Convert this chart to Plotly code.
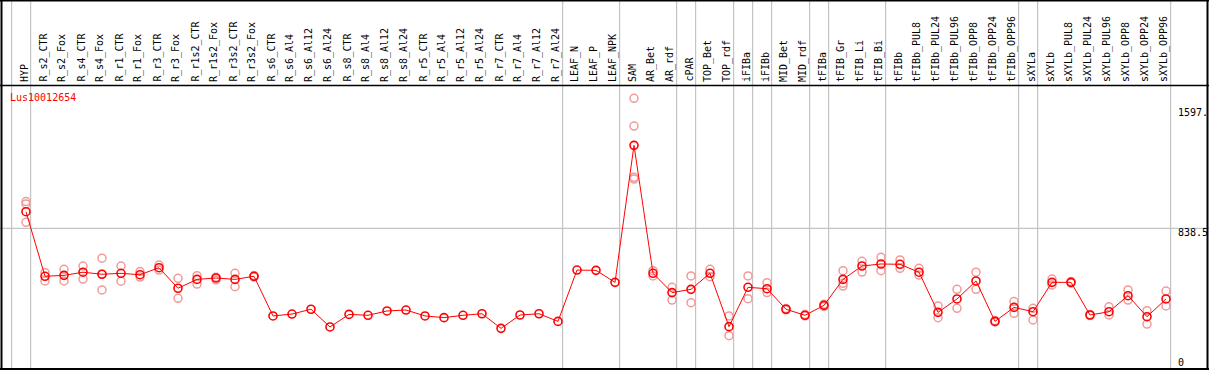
import plotly.graph_objects as go

categories = ["HYP", "R_s2_CTR", "R_s2_Fox", "R_s4_CTR", "R_s4_Fox", "R_r1_CTR", "R_r1_Fox",
              "R_r3_CTR", "R_r3_Fox", "R_r1s2_CTR", "R_r1s2_Fox", "R_r3s2_CTR", "R_r3s2_Fox",
              "R_s6_CTR", "R_s6_Al4", "R_s6_Al12", "R_s6_Al24", "R_s8_CTR", "R_s8_Al4", "R_s8_Al12",
              "R_s8_Al24", "R_r5_CTR", "R_r5_Al4", "R_r5_Al12", "R_r5_Al24", "R_r7_CTR", "R_r7_Al4",
              "R_r7_Al12", "R_r7_Al24", "LEAF_N", "LEAF_P", "LEAF_NPK", "SAM", "AR_Bet", "AR_rdf",
              "cPAR", "TOP_Bet", "TOP_rdf", "iFIBa", "iFIBb", "MID_Bet", "MID_rdf", "tFIBa",
              "tFIB_Gr", "tFIB_Li", "tFIB_Bi", "tFIBb", "tFIBb_PUL8", "tFIBb_PUL24", "tFIBb_PUL96",
              "tFIBb_OPP8", "tFIBb_OPP24", "tFIBb_OPP96", "sXYLa", "sXYLb", "sXYLb_PUL8",
              "sXYLb_PUL24", "sXYLb_PUL96", "sXYLb_OPP8", "sXYLb_OPP24", "sXYLb_OPP96"]

means = [945, 530, 536, 556, 543, 549, 540, 585, 453, 510, 519, 510, 530,
         275, 287, 318, 204, 285, 279, 307, 313, 275, 264, 279, 289, 195, 281, 289, 240,
         570, 568, 491, 1372, 549, 425, 446, 549, 206, 459, 450, 318, 279, 343,
         510, 596, 609, 607, 556, 298, 384, 500, 240, 330, 302, 491, 491, 281, 302, 405, 270, 384]

replicates = [[1010, 995, 877], [553, 500], [575, 500], [596, 512], [646, 442, 543], [596, 498],
              [560, 525], [602, 570], [517, 388], [534, 480], [523, 506], [549, 463], [535, 525],
              [], [], [], [], [], [], [], [], [], [], [], [], [], [], [], [],
              [], [], [], [1674, 1496, 1155, 1166], [566, 532], [459, 377], [532, 360], [575, 527],
              [275, 148], [532, 386], [489, 425], [322, 314], [284, 275], [350, 336],
              [566, 485, 467], [626, 557], [652, 566], [635, 581], [581, 538], [339, 264],
              [446, 324], [556, 446], [245, 236], [367, 292], [324, 249], [512, 474], [496, 486],
              [285, 277], [334, 281], [442, 377], [309, 223], [435, 339]]

group_ends = [0, 1, 29, 32, 35, 36, 38, 39, 40, 42, 43, 46, 53, 54, 61]
axis_labels = ["1597.", "838.5", "0"]
gene = "Lus10012654"

# geometry (pixel layout of the 1209x370 canvas)
W, H = 1209, 370
x0_px, step_px = 26, 19
y0_px, px_per_unit = 358.7, 0.15552

xr = [-x0_px / step_px, (W - x0_px) / step_px]
yr = [(y0_px - H) / px_per_unit, y0_px / px_per_unit]

def ypaper(px):
    return 1 - px / H

def xpaper(px):
    return px / W

idx = list(range(len(categories)))

rep_x, rep_y = [], []
for i, reps in enumerate(replicates):
    for v in reps:
        rep_x.append(i)
        rep_y.append(v)

fig = go.Figure()
fig.add_trace(go.Scatter(x=rep_x, y=rep_y, mode="markers",
                         marker=dict(symbol="circle-open", size=8, color="#f29a9a",
                                     line=dict(width=1.5, color="#f29a9a")),
                         hoverinfo="skip", showlegend=False))
fig.add_trace(go.Scatter(x=idx, y=means, mode="lines+markers",
                         line=dict(color="#ff0000", width=1),
                         marker=dict(symbol="circle-open", size=8, color="#ff0000",
                                     line=dict(width=1.6, color="#ff0000")),
                         text=categories, showlegend=False))

shapes = []
gray = "#c4c4c4"
for g in group_ends:
    xb = g - 1 + 4.6 / step_px
    shapes.append(dict(type="line", xref="x", yref="paper", x0=xb, x1=xb, y0=0, y1=1,
                       line=dict(color=gray, width=1.2), layer="below"))
shapes.append(dict(type="line", xref="paper", yref="y", x0=0, x1=1, y0=838.5, y1=838.5,
                   line=dict(color=gray, width=1.2), layer="below"))
# frame lines
blk = "#000000"
shapes.append(dict(type="line", xref="paper", yref="paper", x0=0, x1=1, y0=ypaper(0.5), y1=ypaper(0.5), line=dict(color=blk, width=2)))
shapes.append(dict(type="line", xref="paper", yref="paper", x0=0, x1=1, y0=ypaper(85.5), y1=ypaper(85.5), line=dict(color=blk, width=1.5)))
shapes.append(dict(type="line", xref="paper", yref="paper", x0=0, x1=1, y0=ypaper(369), y1=ypaper(369), line=dict(color=blk, width=2)))
shapes.append(dict(type="line", xref="paper", yref="paper", x0=xpaper(1.5), x1=xpaper(1.5), y0=0, y1=1, line=dict(color=blk, width=2)))
shapes.append(dict(type="line", xref="paper", yref="paper", x0=xpaper(1207.5), x1=xpaper(1207.5), y0=0, y1=1, line=dict(color=blk, width=2)))

font_mono = "DejaVu Sans Mono"
annotations = []
for i, c in enumerate(categories):
    annotations.append(dict(x=i - 0.1, y=ypaper(83), xref="x", yref="paper", text=c,
                            textangle=-90, showarrow=False, xanchor="center", yanchor="bottom",
                            borderpad=0, font=dict(family=font_mono, size=10, color="#000000")))
annotations.append(dict(x=xpaper(9), y=ypaper(98), xref="paper", yref="paper", text=gene,
                        showarrow=False, xanchor="left", yanchor="middle", borderpad=0,
                        font=dict(family=font_mono, size=10, color="#ff0000")))
label_px = [112, 232, 362.5]
for lab, py in zip(axis_labels, label_px):
    annotations.append(dict(x=xpaper(1177), y=ypaper(py), xref="paper", yref="paper", text=lab,
                            showarrow=False, xanchor="left", yanchor="middle", borderpad=0,
                            font=dict(family=font_mono, size=10, color="#000000")))

fig.update_layout(width=W, height=H, autosize=False,
                  margin=dict(l=0, r=0, t=0, b=0, pad=0),
                  paper_bgcolor="white", plot_bgcolor="white",
                  xaxis=dict(range=xr, visible=False, fixedrange=True),
                  yaxis=dict(range=yr, visible=False, fixedrange=True),
                  shapes=shapes, annotations=annotations, showlegend=False)

fig.write_html("out.html", config={"displayModeBar": False},
               post_script="document.body.style.margin='0px';document.body.style.overflow='hidden';")
